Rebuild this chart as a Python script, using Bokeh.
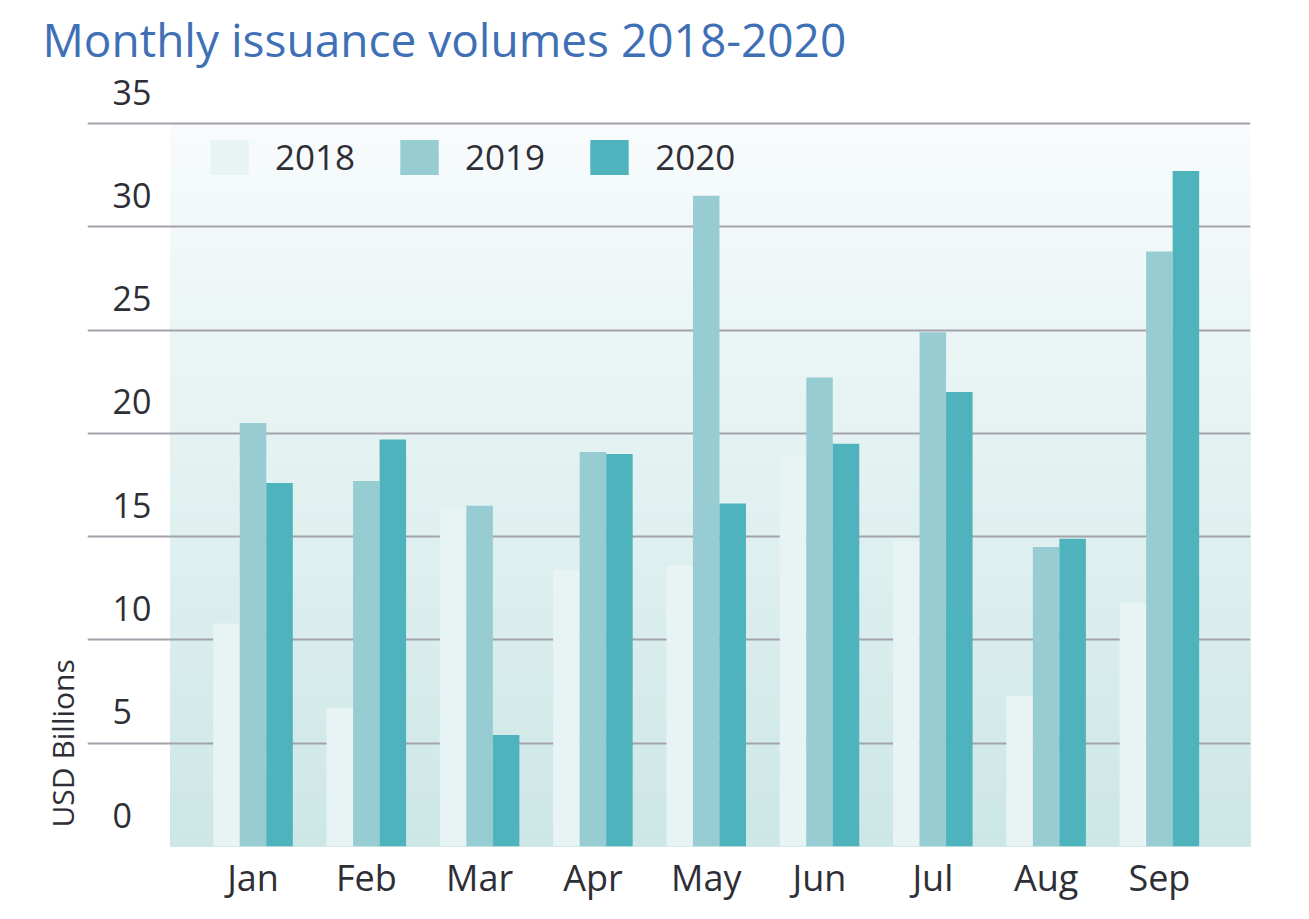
import numpy as np
from bokeh.plotting import figure
from bokeh.models import (ColumnDataSource, Range1d, FixedTicker, Legend, LegendItem, Title)
from bokeh.transform import dodge
from bokeh.core.properties import value
from bokeh.embed import file_html
from bokeh.resources import INLINE

# ---------------- data ----------------
months = ["Jan", "Feb", "Mar", "Apr", "May", "Jun", "Jul", "Aug", "Sep"]
vol_2018 = [10.8, 6.7, 16.4, 13.4, 13.6, 18.9, 14.8, 7.3, 11.8]
vol_2019 = [20.5, 17.7, 16.5, 19.1, 31.5, 22.7, 24.9, 14.5, 28.8]
vol_2020 = [17.6, 19.7, 5.4, 19.0, 16.6, 19.5, 22.0, 14.9, 32.7]
y_ticks = [0, 5, 10, 15, 20, 25, 30, 35]
y_tick_labels = ["0", "5", "10", "15", "20", "25", "30", "35"]
series_names = ["2018", "2019", "2020"]

# ---------------- style ----------------
FONT = "Open Sans"
C2018, C2019, C2020 = "#e8f4f4", "#97cdd2", "#4fb3be"
TEXT = "#2e2e36"
GRID = "#a3a1ab"
BAR_W = 0.234

x_idx = list(range(len(months)))
src = ColumnDataSource(dict(x=x_idx, v18=vol_2018, v19=vol_2019, v20=vol_2020))

p = figure(width=1301, height=911, output_backend="svg", toolbar_location=None,
           x_range=Range1d(-1.461, 8.804), y_range=Range1d(0, 37.47),
           min_border_left=87, min_border_right=51, min_border_top=72,
           min_border_bottom=65)
p.background_fill_color = "white"
p.border_fill_color = "white"
p.outline_line_color = None

# title
p.title.text = "Monthly issuance volumes 2018-2020"
p.title.text_font = FONT
p.title.text_font_size = "46px"
p.title.text_font_style = "normal"
p.title.text_color = "#3f70b6"
p.title.align = "left"
p.title.offset = -45
p.title.standoff = 6

# gradient plot background (stacked strips, lightest/tallest first)
top_val = y_ticks[-1]
n_strips = 80
c_bot = np.array([0xcc, 0xe7, 0xe6], dtype=float)
c_top = np.array([0xf8, 0xfb, 0xfb], dtype=float)
tops, cols = [], []
for i in range(n_strips, 0, -1):
    t = top_val * i / n_strips
    f = (i - 0.5) / n_strips
    c = c_bot + (c_top - c_bot) * f
    tops.append(t)
    cols.append("#%02x%02x%02x" % tuple(int(round(v)) for v in c))
bg = p.quad(left=-0.728, right=8.804, bottom=0, top=tops, fill_color=cols,
            line_color=None)
bg.level = "image"

# grid
p.xgrid.visible = False
p.ygrid.ticker = FixedTicker(ticks=y_ticks)
p.ygrid.grid_line_color = GRID
p.ygrid.grid_line_width = 2

# bars
r18 = p.vbar(x=dodge("x", -BAR_W, range=p.x_range), top="v18", width=BAR_W,
             source=src, fill_color=C2018, line_color=None)
r19 = p.vbar(x="x", top="v19", width=BAR_W, source=src,
             fill_color=C2019, line_color=None)
r20 = p.vbar(x=dodge("x", BAR_W, range=p.x_range), top="v20", width=BAR_W,
             source=src, fill_color=C2020, line_color=None)

# x axis
p.xaxis.ticker = FixedTicker(ticks=x_idx)
p.xaxis.major_label_overrides = {i: m for i, m in zip(x_idx, months)}
p.xaxis.axis_line_color = None
p.xaxis.major_tick_line_color = None
p.xaxis.minor_tick_line_color = None
p.xaxis.major_label_text_font = FONT
p.xaxis.major_label_text_font_size = "36px"
p.xaxis.major_label_text_color = TEXT
p.xaxis.major_label_standoff = 0

# y axis: labels sit above the grid lines
p.yaxis.visible = False
ysrc = ColumnDataSource(dict(y=y_ticks, t=y_tick_labels,
                             x=[-1.24] * len(y_ticks)))
p.text(x="x", y="y", text="t", source=ysrc, text_font=value(FONT),
       text_font_size="34px", text_color=TEXT, text_align="left",
       text_baseline="bottom", y_offset=-19)

# vertical axis title
ytitle = Title(text="USD Billions", align="left", offset=19, standoff=10,
               text_font=FONT, text_font_size="30px", text_font_style="normal",
               text_color=TEXT)
p.add_layout(ytitle, "left")

# legend
legend = Legend(items=[LegendItem(label=series_names[0], renderers=[r18]),
                       LegendItem(label=series_names[1], renderers=[r19]),
                       LegendItem(label=series_names[2], renderers=[r20])],
                orientation="horizontal", location=(118, 666),
                glyph_width=48, glyph_height=44, label_standoff=22, spacing=40,
                padding=0, margin=0, background_fill_alpha=0,
                border_line_alpha=0, label_text_font=FONT,
                label_text_font_size="35px", label_text_color=TEXT)
p.add_layout(legend, "center")

open("out.html", "w").write(file_html(p, INLINE))
